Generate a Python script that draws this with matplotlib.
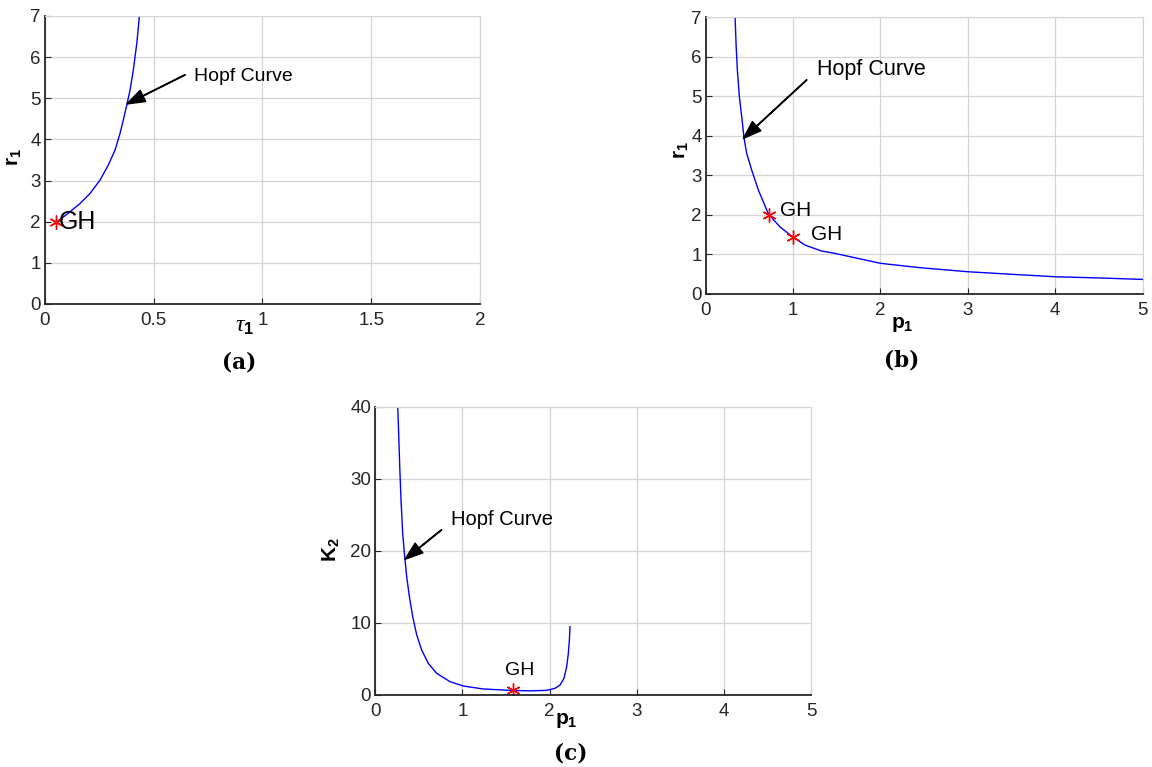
import numpy as np
import matplotlib
matplotlib.use("Agg")
import matplotlib.pyplot as plt

plt.rcParams['font.family'] = ['Liberation Sans', 'DejaVu Sans']
plt.rcParams['mathtext.fontset'] = 'custom'
plt.rcParams['mathtext.rm'] = 'Liberation Sans'
plt.rcParams['mathtext.bf'] = 'Liberation Sans:bold'
plt.rcParams['mathtext.it'] = 'Liberation Serif:italic'

# ---- data ----
# (a) r1 vs tau1
tau_a = [0.055, 0.078, 0.116, 0.162, 0.208, 0.254, 0.292, 0.323, 0.346, 0.361,
         0.377, 0.392, 0.407, 0.423, 0.435]
r_a = [2.0, 2.08, 2.24, 2.44, 2.685, 3.01, 3.375, 3.74, 4.145, 4.47,
       4.835, 5.2, 5.686, 6.335, 7.0]
gh_a = (0.05, 2.0)

# (b) r1 vs p1
p_b = [0.336, 0.347, 0.362, 0.385, 0.412, 0.439, 0.469, 0.526, 0.603, 0.717,
       0.85, 0.995, 1.137, 1.327, 1.46, 2.0, 2.45, 3.0, 3.52, 4.0, 4.5, 5.0]
r_b = [7.0, 6.33, 5.66, 4.98, 4.48, 3.93, 3.55, 3.13, 2.62, 2.02,
       1.69, 1.44, 1.23, 1.08, 1.03, 0.77, 0.66, 0.557, 0.49, 0.43, 0.40, 0.363]
gh_b = [(0.725, 2.0), (1.0, 1.44)]

# (c) K2 vs p1
p_c = [0.257, 0.268, 0.280, 0.295, 0.314, 0.337, 0.360, 0.391, 0.429, 0.475,
       0.532, 0.608, 0.704, 0.857, 1.010, 1.24, 1.469, 1.584, 1.775, 1.966,
       2.062, 2.12, 2.165, 2.196, 2.215, 2.227, 2.234]
k_c = [40.0, 36.3, 31.7, 27.0, 22.4, 19.17, 16.39, 13.61, 10.83, 8.29,
       6.20, 4.35, 2.96, 1.81, 1.20, 0.79, 0.65, 0.58, 0.53, 0.60,
       0.88, 1.34, 2.27, 3.89, 5.74, 7.59, 9.44]
gh_c = (1.584, 0.62)

fig = plt.figure(figsize=(11.52, 7.67), dpi=100)
ax_a = fig.add_axes([0.0388, 0.6037, 0.378, 0.3755])
ax_b = fig.add_axes([0.6126, 0.617, 0.3793, 0.3608])
ax_c = fig.add_axes([0.3258, 0.0943, 0.3782, 0.3755])

asterisk = (6, 2, 0)
arrow_kw = dict(facecolor='black', edgecolor='black', width=0.4,
                headwidth=9, headlength=13, shrink=0)


def style(ax, xlim, ylim, xticks, yticks, xtl):
    ax.set_xlim(*xlim)
    ax.set_ylim(*ylim)
    ax.set_xticks(xticks)
    ax.set_xticklabels(xtl)
    ax.set_yticks(yticks)
    ax.grid(True, color='#d4d4d4', linewidth=0.9)
    ax.set_axisbelow(True)
    ax.tick_params(direction='in', length=4, labelsize=13.5, colors='#262626')
    ax.tick_params(axis='x', pad=6)
    ax.tick_params(axis='y', pad=3)
    for s in ['left', 'bottom']:
        ax.spines[s].set_color('#262626')
        ax.spines[s].set_linewidth(1.3)
    for s in ['top', 'right']:
        ax.spines[s].set_color('#d4d4d4')


def hopf(ax, tip, tail, txt, fs):
    ax.annotate('', xy=tip, xytext=tail, arrowprops=arrow_kw)
    ax.text(txt[0], txt[1], 'Hopf Curve', fontsize=fs, va='center', ha='left')


# ---- panel (a) ----
style(ax_a, (0, 2), (0, 7), [0, 0.5, 1, 1.5, 2], range(0, 8),
      ['0', '0.5', '1', '1.5', '2'])
ax_a.plot(tau_a, r_a, color='blue', lw=1)
ax_a.plot(*gh_a, marker=asterisk, color='red', ms=10, mew=1)
ax_a.text(0.065, 2.0, 'GH', fontsize=18, va='center', ha='left')
hopf(ax_a, (0.377, 4.86), (0.645, 5.57), (0.687, 5.53), 14)
ax_a.text(0.46, -0.078, r'$\tau_\mathbf{1}$', transform=ax_a.transAxes,
          fontsize=17, ha='center', va='center')
ax_a.text(-0.07, 0.51, r'$\mathbf{r_1}$', transform=ax_a.transAxes,
          fontsize=15, ha='center', va='center', rotation=90)

# ---- panel (b) ----
style(ax_b, (0, 5), (0, 7), range(0, 6), range(0, 8),
      [str(v) for v in range(0, 6)])
ax_b.plot(p_b, r_b, color='blue', lw=1)
for (px, py), (tx, ty) in zip(gh_b, [(0.85, 2.1), (1.205, 1.5)]):
    ax_b.plot(px, py, marker=asterisk, color='red', ms=10, mew=1)
    ax_b.text(tx, ty, 'GH', fontsize=15, va='center', ha='left')
hopf(ax_b, (0.431, 3.93), (1.156, 5.41), (1.27, 5.67), 15.5)
ax_b.text(0.449, -0.11, r'$\mathbf{p_1}$', transform=ax_b.transAxes,
          fontsize=15, ha='center', va='center')
ax_b.text(-0.055, 0.52, r'$\mathbf{r_1}$', transform=ax_b.transAxes,
          fontsize=15, ha='center', va='center', rotation=90)

# ---- panel (c) ----
style(ax_c, (0, 5), (0, 40), range(0, 6), range(0, 41, 10),
      [str(v) for v in range(0, 6)])
ax_c.plot(p_c, k_c, color='blue', lw=1)
ax_c.plot(*gh_c, marker=asterisk, color='red', ms=10, mew=1)
ax_c.text(1.66, 3.4, 'GH', fontsize=14, va='center', ha='center')
hopf(ax_c, (0.34, 18.8), (0.761, 22.9), (0.865, 24.35), 14.5)
ax_c.text(0.438, -0.09, r'$\mathbf{p_1}$', transform=ax_c.transAxes,
          fontsize=15, ha='center', va='center')
ax_c.text(-0.1, 0.502, r'$\mathbf{K_2}$', transform=ax_c.transAxes,
          fontsize=15, ha='center', va='center', rotation=90)

# ---- sub captions ----
for lab, x, y in [('(a)', 0.208, 0.527), ('(b)', 0.783, 0.53), ('(c)', 0.495, 0.017)]:
    fig.text(x, y, lab, fontsize=15.5, fontweight='bold', ha='center', va='center',
             family=['DejaVu Serif'])

fig.savefig('out.png', dpi=100)
